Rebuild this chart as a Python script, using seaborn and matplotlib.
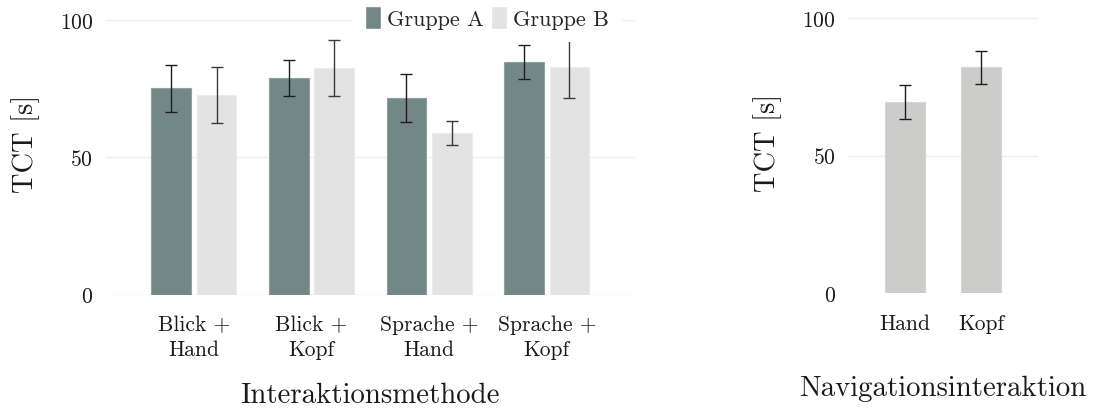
import numpy as np
import pandas as pd
import matplotlib
matplotlib.use("Agg")
import matplotlib.pyplot as plt
import seaborn as sns

# ---- data ----
methods = ["Blick +\nHand", "Blick +\nKopf", "Sprache +\nHand", "Sprache +\nKopf"]
groups = ["Gruppe A", "Gruppe B"]
tct_a = [75.1, 79.0, 71.7, 84.7]
err_a = [8.6, 6.5, 8.7, 6.2]
tct_b = [72.7, 82.5, 58.9, 82.9]
err_b = [10.2, 10.3, 4.5, 11.3]

nav = ["Hand", "Kopf"]
tct_nav = [69.5, 82.1]
err_nav = [6.05, 6.05]

y_ticks = [0, 50, 100]

# ---- style ----
sns.set_style("white")
plt.rcParams["font.family"] = ["cmr10", "DejaVu Serif"]
plt.rcParams["axes.formatter.use_mathtext"] = True
plt.rcParams["axes.unicode_minus"] = False
plt.rcParams["mathtext.fontset"] = "cm"

col_a = "#718a8a"
col_b = "#e3e3e3"
col_nav = "#cccccb"
grid_col = "#efefef"
err_col = "#1e1e1e"

fig = plt.figure(figsize=(10.94, 4.10), dpi=100)
W, H = 1094, 410

def px_axes(x0, x1, ybot, ytop):
    return fig.add_axes([x0 / W, (H - ybot) / H, (x1 - x0) / W, (ybot - ytop) / H])

ax1 = px_axes(105.6, 635, 295.7, 21)
ax2 = px_axes(848, 1038, 294, 19)

# ---- left panel ----
df = pd.DataFrame({
    "method": methods * 2,
    "group": [groups[0]] * 4 + [groups[1]] * 4,
    "tct": tct_a + tct_b,
})
sns.barplot(data=df, x="method", y="tct", hue="group", order=methods,
            hue_order=groups, palette=[col_a, col_b], errorbar=None,
            width=0.772, gap=0.127, ax=ax1, legend=True, zorder=2)

for cont, vals, errs, ec, ecol in zip(ax1.containers, [tct_a, tct_b], [err_a, err_b],
                                      ["#8ea1a1", "#ececec"], [err_col, "#3a3a3a"]):
    centers = [p.get_x() + p.get_width() / 2 for p in cont]
    for p in cont:
        p.set_edgecolor(ec)
        p.set_linewidth(0.8)
    ax1.errorbar(centers, vals, yerr=errs, fmt="none", ecolor=ecol,
                 elinewidth=1.0, capsize=4, capthick=1.0, zorder=3)

handles, labels = ax1.get_legend_handles_labels()
leg = ax1.legend(handles, labels, ncol=2, loc="center",
                 bbox_to_anchor=(487 / W, (H - 18.5) / H),
                 bbox_transform=fig.transFigure,
                 fontsize=16, frameon=True, fancybox=False, framealpha=1,
                 edgecolor="none", facecolor="white",
                 handlelength=0.72, handleheight=1.22, handletextpad=0.25,
                 columnspacing=0.35, borderpad=0.6, borderaxespad=0)
leg.set_zorder(10)

# ---- right panel ----
sns.barplot(x=nav, y=tct_nav, color=col_nav, errorbar=None, width=0.526,
            ax=ax2, zorder=2)
cont = ax2.containers[0]
centers = [p.get_x() + p.get_width() / 2 for p in cont]
for p in cont:
    p.set_edgecolor("#d6d6d5")
    p.set_linewidth(0.8)
ax2.errorbar(centers, tct_nav, yerr=err_nav, fmt="none", ecolor=err_col,
             elinewidth=1.0, capsize=4, capthick=1.0, zorder=3)

# ---- common axes formatting ----
for ax, nx in [(ax1, len(methods)), (ax2, len(nav))]:
    ax.set_xlim(-0.75, nx - 0.25)
    ax.set_ylim(0, 100)
    ax.set_yticks(y_ticks)
    ax.yaxis.grid(True, color=grid_col, linewidth=1.0, zorder=0)
    ax.xaxis.grid(False)
    ax.set_axisbelow(True)
    for s in ax.spines.values():
        s.set_visible(False)
    ax.tick_params(axis="y", length=0, pad=9, labelsize=15.5, labelcolor="#1a1a1a")
    ax.tick_params(axis="x", length=2, width=0.8, color="#bbbbbb", pad=12.5,
                   labelsize=15.5, labelcolor="#1a1a1a")
    ax.set_ylabel("TCT [s]", fontsize=20.5, color="#1a1a1a")

ax1.set_xlabel("Interaktionsmethode", fontsize=20.8, color="#1a1a1a")
ax2.set_xlabel("Navigationsinteraktion", fontsize=20.8, color="#1a1a1a")
for lab in ax1.get_xticklabels():
    lab.set_linespacing(1.35)

ax1.yaxis.set_label_coords(-0.124, 0.552)
ax2.yaxis.set_label_coords(-0.347, 0.549)
ax1.xaxis.set_label_coords(0.5, -0.315)
ax2.xaxis.set_label_coords(0.5, -0.298)

fig.savefig("out.png", dpi=100)
